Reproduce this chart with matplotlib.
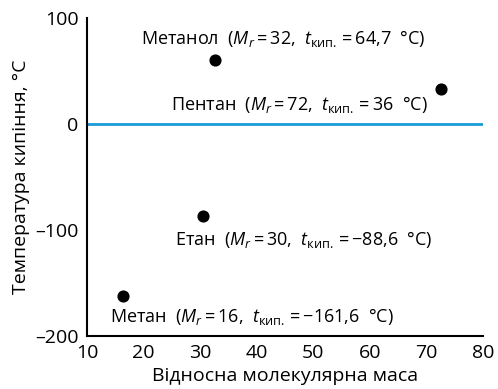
import matplotlib.pyplot as plt

plt.rcParams.update({
    'font.family': ['Open Sans', 'DejaVu Sans'],
    'font.size': 13,
    'mathtext.fontset': 'custom',
    'mathtext.rm': 'Open Sans',
    'mathtext.it': 'Open Sans:italic',
    'mathtext.default': 'it',
})

# --- data (dot positions) ---
names = ['Метанол', 'Пентан', 'Етан', 'Метан']
mr_labels = ['32', '72', '30', '16']
t_labels = ['64,7', '36', '−88,6', '−161,6']
mass = [32.7, 72.5, 30.5, 16.3]
temp = [60.5, 33.0, -86.5, -162.0]
# label offsets in pixels from each dot (left edge, baseline)
offsets = [(-74, 16), (-270, -21), (-28, -29), (-13, -26)]

xticks = [10, 20, 30, 40, 50, 60, 70, 80]
yticks = [-200, -100, 0, 100]

fig = plt.figure(figsize=(4.98, 3.89), dpi=100)
ax = fig.add_axes([0.1747, 0.1362, 0.7953, 0.8175])

ax.axhline(0, color='#1a9ad6', linewidth=2.0, zorder=1)
ax.scatter(mass, temp, s=60, color='black', zorder=3)

for n, m, t, x, y, off in zip(names, mr_labels, t_labels, mass, temp, offsets):
    label = (n + '  ($M_r$\u2009=\u2009' + m + ',  $t_{\\mathrm{кип.}}$\u2009=\u2009'
             + t + '  °C)')
    ax.annotate(label, (x, y), xytext=off, textcoords='offset pixels',
                ha='left', va='baseline', fontsize=13)

ax.set_xlim(10, 80)
ax.set_ylim(-200, 100)
ax.set_xticks(xticks)
ax.set_yticks(yticks)
ax.set_yticklabels([str(v).replace('-', '–') for v in yticks])
ax.tick_params(length=0, pad=6, labelsize=14)

for side in ['top', 'right']:
    ax.spines[side].set_visible(False)
for side in ['left', 'bottom']:
    ax.spines[side].set_linewidth(1.5)

ax.set_xlabel('Відносна молекулярна маса', fontsize=14, labelpad=3)
ax.set_ylabel('Температура кипіння, °C', fontsize=14, labelpad=4)

plt.savefig('out.png', dpi=100)
